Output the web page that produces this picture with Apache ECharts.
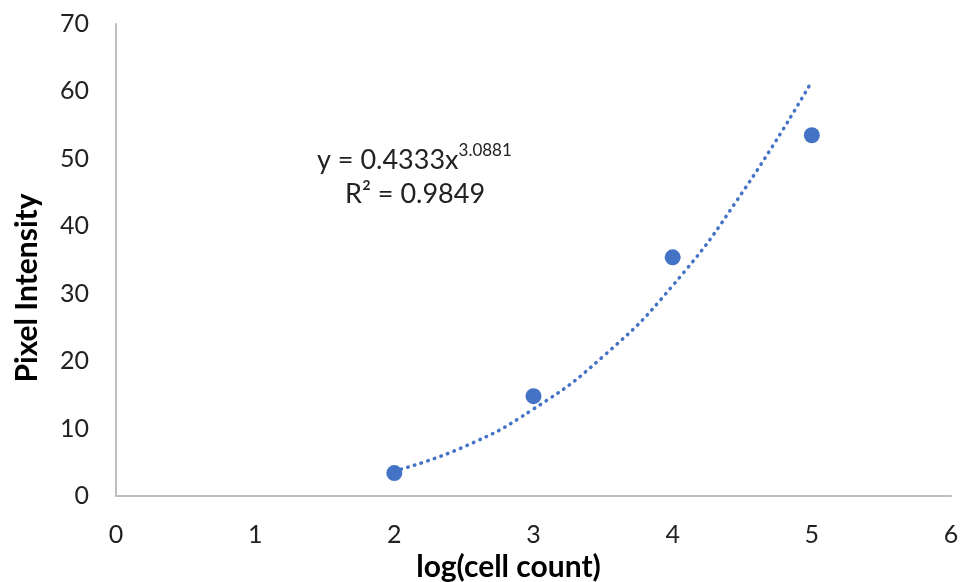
<!DOCTYPE html>
<html>
<head>
<meta charset="utf-8">
<script src="https://cdn.jsdelivr.net/npm/echarts@6/dist/echarts.min.js"></script>
<style>
html,body{margin:0;padding:0;background:#fff;}
#main{width:963px;height:582px;}
</style>
</head>
<body>
<div id="main"></div>
<script>
// measured points
var logCount=[2,3,4,5];
var intensity=[3.4,14.8,35.4,53.5];
// trendline
var trendX=[2,2.5,3,3.5,4,4.5,5];
var trendY=[3.7,7.3,12.9,20.7,31.2,45,61.5];
var xTicks=[0,1,2,3,4,5,6];
var yTicks=[0,10,20,30,40,50,60,70];

var pts=[],trend=[];
for(var i=0;i<logCount.length;i++){pts.push([logCount[i],intensity[i]]);}
for(var j=0;j<trendX.length;j++){trend.push([trendX[j],trendY[j]]);}

var font='Lato, "Open Sans", sans-serif';
var myChart=echarts.init(document.getElementById('main'));
myChart.setOption({
	animation:false,
	grid:{left:116,right:12,top:24,bottom:86,outerBoundsMode:'none',containLabel:false},
	xAxis:{
		type:'value',min:xTicks[0],max:xTicks[xTicks.length-1],interval:1,
		name:'log(cell count)',nameLocation:'middle',nameGap:54,
		nameTextStyle:{fontFamily:font,fontSize:30,fontWeight:'bold',color:'#000',padding:[0,50,0,0]},
		axisLine:{lineStyle:{color:'#bfbfbf',width:2}},
		axisTick:{show:false},
		splitLine:{show:false},
		axisLabel:{fontFamily:font,fontSize:25,color:'#222',margin:26}
	},
	yAxis:{
		type:'value',min:yTicks[0],max:yTicks[yTicks.length-1],interval:10,
		name:'Pixel Intensity',nameLocation:'middle',nameGap:74,
		nameTextStyle:{fontFamily:font,fontSize:30,fontWeight:'bold',color:'#000',padding:[0,56,0,0]},
		axisLine:{show:true,lineStyle:{color:'#bfbfbf',width:2}},
		axisTick:{show:false},
		splitLine:{show:false},
		axisLabel:{fontFamily:font,fontSize:25,color:'#222',margin:27}
	},
	series:[
		{
			type:'line',data:trend,smooth:true,symbol:'none',
			lineStyle:{color:'#4472c4',width:3.5,type:[0.5,6.5],cap:'round'},
			z:1
		},
		{
			type:'scatter',data:pts,symbolSize:16,
			itemStyle:{color:'#4472c4',opacity:1},
			z:2
		}
	],
	graphic:[
		{
			type:'text',left:317,top:142,
			style:{
				text:'{a|y = 0.4333x}{s|3.0881}',
				rich:{
					a:{fontFamily:font,fontSize:27,fill:'#222',verticalAlign:'bottom'},
					s:{fontFamily:font,fontSize:17,fill:'#222',verticalAlign:'top',padding:[0,0,15,0]}
				}
			}
		},
		{
			type:'text',left:345,top:181,
			style:{text:'R² = 0.9849',fontFamily:font,fontSize:27,fill:'#222'}
		}
	]
});
window.onresize=myChart.resize;
</script>
</body>
</html>
